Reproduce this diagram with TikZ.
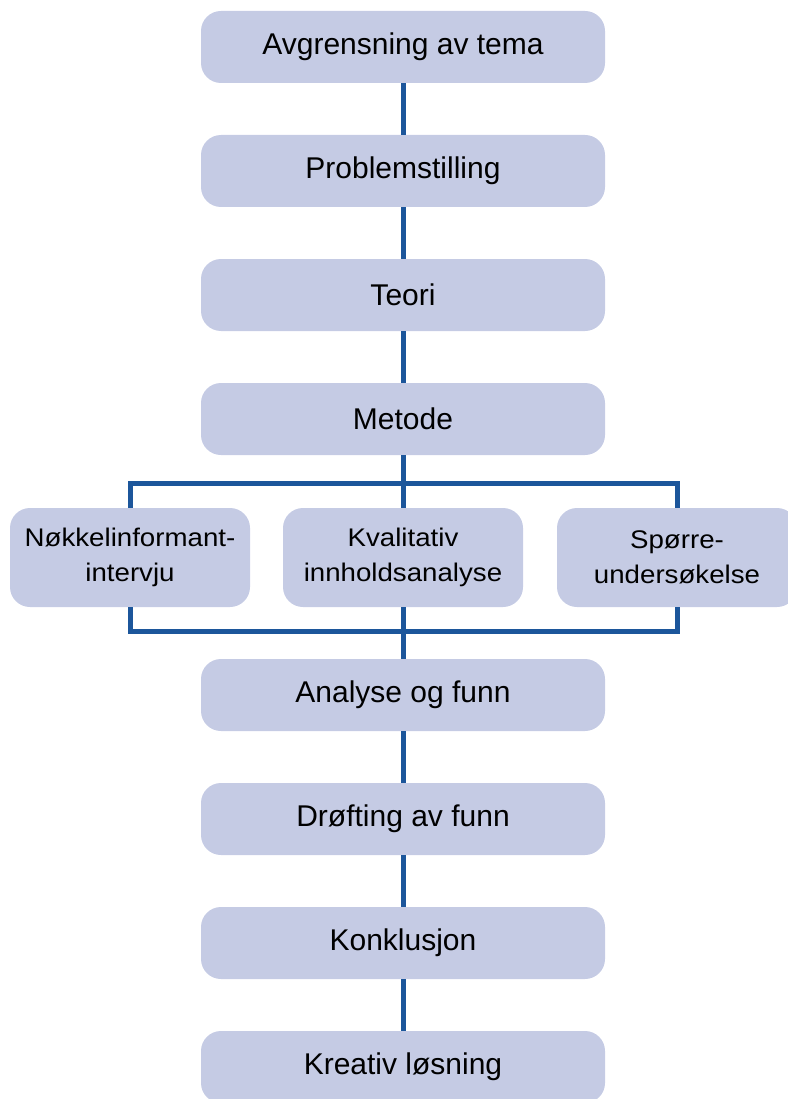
\documentclass[tikz,border=0pt]{standalone}
\usepackage{fontspec}
\setmainfont{Liberation Sans}
\newfontfamily\widefont[FakeStretch=1.085]{Liberation Sans}
\definecolor{boxfill}{RGB}{197,203,228}
\definecolor{linkblue}{RGB}{28,86,155}
\begin{document}
\begin{tikzpicture}[x=1pt,y=1pt,
  mainbox/.style={fill=boxfill, rounded corners=20pt, minimum width=404pt, minimum height=72pt, inner sep=0pt, font=\fontsize{30}{36}\selectfont},
  subbox/.style={fill=boxfill, rounded corners=20pt, minimum width=240pt, minimum height=99pt, inner sep=0pt, align=center, font=\widefont\fontsize{25.5}{35}\selectfont},
  link/.style={draw=linkblue, line width=5pt}]
\useasboundingbox (0,0) rectangle (787,-1099);
\coordinate (ctop) at (403,-483);
\coordinate (cbot) at (403,-631);
\node[mainbox] (a) at (403,-47) {Avgrensning av tema};
\node[mainbox] (b) at (403,-171) {Problemstilling};
\node[mainbox] (c) at (403,-295) {Teori};
\node[mainbox] (d) at (403,-419) {Metode};
\node[subbox] (e1) at (130,-557.5) {Nøkkelinformant-\\intervju};
\node[subbox] (e2) at (403,-557.5) {Kvalitativ\\innholdsanalyse};
\node[subbox] (e3) at (677,-557.5) {Spørre-\\undersøkelse};
\node[mainbox] (f) at (403,-695) {Analyse og funn};
\node[mainbox] (g) at (403,-819) {Drøfting av funn};
\node[mainbox] (h) at (403,-943) {Konklusjon};
\node[mainbox] (i) at (403,-1067) {Kreativ løsning};
\draw[link] (a.south) -- (b.north);
\draw[link] (b.south) -- (c.north);
\draw[link] (c.south) -- (d.north);
\draw[link] (d.south) -- (e2.north);
\draw[link] (e1.north) |- (ctop) -| (e3.north);
\draw[link] (e1.south) |- (cbot) -| (e3.south);
\draw[link] (e2.south) -- (f.north);
\draw[link] (f.south) -- (g.north);
\draw[link] (g.south) -- (h.north);
\draw[link] (h.south) -- (i.north);
\end{tikzpicture}
\end{document}
